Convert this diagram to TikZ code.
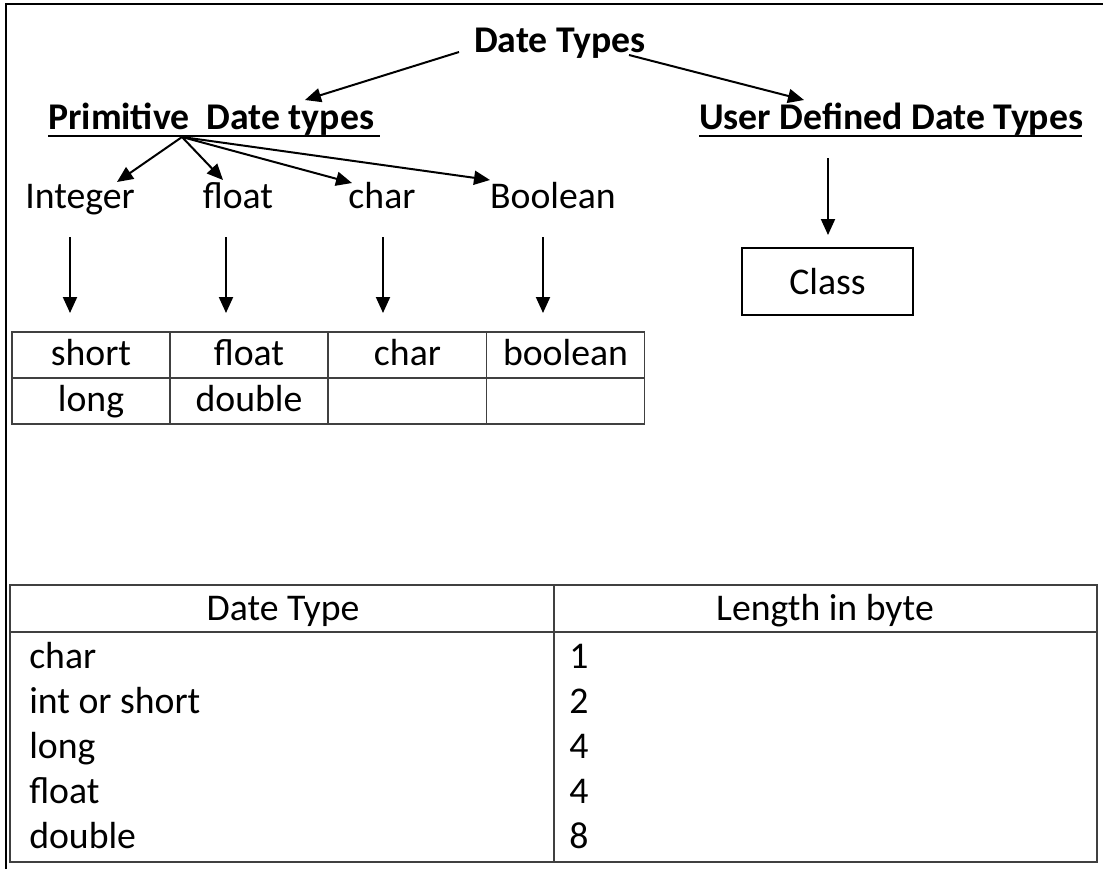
\documentclass[tikz,border=0pt]{standalone}
\usepackage{fontspec}
\setmainfont{Carlito}
\usetikzlibrary{arrows.meta}
\newcommand{\txtsize}{\fontsize{28.3}{34}\selectfont}

\begin{document}
\begin{tikzpicture}[x=0.75pt,y=-0.75pt,
    txt/.style={inner sep=0pt, font=\txtsize},
    bold/.style={inner sep=0pt, font=\txtsize\bfseries},
    arr/.style={line width=1.5pt, -{Triangle[length=12pt,width=10.5pt]}},
    cell/.style={draw=black!75, line width=0.8pt, minimum width=118.5pt,
                 minimum height=34.5pt, inner sep=0pt, font=\txtsize,
                 text height=20.5pt, text depth=5.5pt},
    uline/.style={line width=1.8pt}]
  \useasboundingbox (0,0) rectangle (1103,869);
  % frame
  \draw[line width=2pt] (6,869) -- (6,4) -- (1103,4);

  % headings
  \node[bold, anchor=base] (top) at (560,52) {Date Types};
  \node[bold, anchor=base west] (prim) at (48,129) {Primitive\ \ Date types};
  \node[bold, anchor=base west] (user) at (699,129) {User Defined Date Types};
  \draw[uline] (48,136) -- (380,136);
  \draw[uline] (699,136) -- (1082,136);

  \coordinate (topl) at (459,52);
  \coordinate (topr) at (629,55);
  \coordinate (primin) at (305,100);
  \coordinate (userin) at (804,100);
  \draw[arr] (topl) -- (primin);
  \draw[arr] (topr) -- (userin);

  % primitive kinds
  \node[txt, anchor=base] (int) at (80,208) {Integer};
  \node[txt, anchor=base] (flt) at (238,208) {float};
  \node[txt, anchor=base] (chr) at (382,208) {char};
  \node[txt, anchor=base] (bool) at (553,208) {Boolean};

  \coordinate (pfan) at (182,137);
  \foreach \n/\x/\y in {i/117/182, f/223/180, c/352/183, b/490/180}
    \coordinate (in\n) at (\x,\y);
  \draw[arr] (pfan) -- (ini);
  \draw[arr] (pfan) -- (inf);
  \draw[arr] (pfan) -- (inc);
  \draw[arr] (pfan) -- (inb);

  \foreach \n/\x in {i/70, f/226, c/383, b/543} {
    \coordinate (d\n) at (\x,237);
    \coordinate (t\n) at (\x,313);
    \draw[arr] (d\n) -- (t\n);
  }

  % small table
  \node[cell] (s11) at (91,355) {short};
  \node[cell] (s12) at (249,355) {float};
  \node[cell] (s13) at (407.5,355) {char};
  \node[cell] (s14) at (565.5,355) {boolean};
  \node[cell] (s21) at (91,401) {long};
  \node[cell] (s22) at (249,401) {double};
  \node[cell] (s23) at (407.5,401) {};
  \node[cell] (s24) at (565.5,401) {};

  % user defined
  \node[draw, line width=1.3pt, minimum width=128pt, minimum height=50pt,
        inner sep=0pt, font=\txtsize] (cls) at (827.5,281.5) {Class};
  \coordinate (ud) at (828,158);
  \coordinate (ut) at (828,235);
  \draw[arr] (ud) -- (ut);

  % length table
  \draw[draw=black!75, line width=0.9pt] (10,585) rectangle (1097,862);
  \draw[draw=black!75, line width=0.9pt] (10,632) -- (1097,632);
  \draw[draw=black!75, line width=0.9pt] (554,585) -- (554,862);
  \node[txt, anchor=base] (h1) at (283,620) {Date Type};
  \node[txt, anchor=base] (h2) at (825,620) {Length in byte};
  \foreach \t/\n [count=\i] in {char/1, int or short/2, long/4, float/4, double/8} {
    \node[txt, anchor=base west] (r\i) at (29,623+45*\i) {\t};
    \node[txt, anchor=base west] (l\i) at (569,623+45*\i) {\n};
  }
\end{tikzpicture}
\end{document}
